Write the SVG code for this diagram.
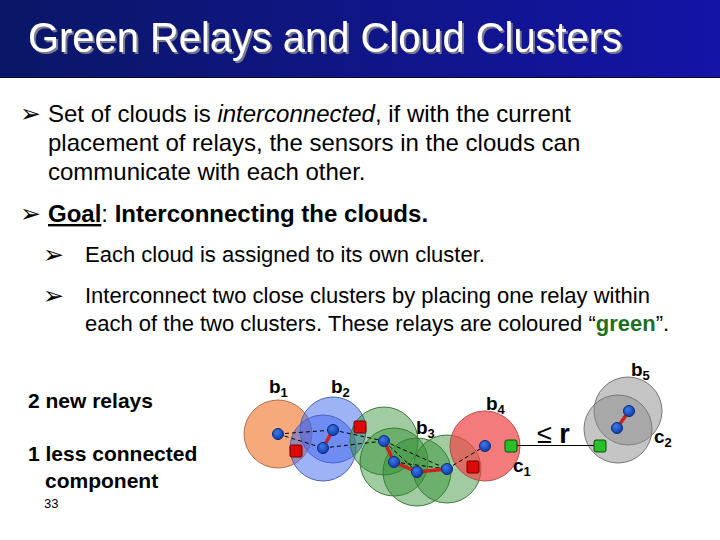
<svg xmlns="http://www.w3.org/2000/svg" width="720" height="540" viewBox="0 0 720 540">
<defs>
<linearGradient id="bar" x1="0" y1="0" x2="1" y2="0">
<stop offset="0" stop-color="#0a1766"/>
<stop offset="1" stop-color="#1414a6"/>
</linearGradient>
<radialGradient id="dot" cx="0.4" cy="0.35" r="0.7">
<stop offset="0" stop-color="#3f78e8"/>
<stop offset="1" stop-color="#0b3aa8"/>
</radialGradient>
<filter id="shadow" x="-5%" y="-20%" width="110%" height="150%">
<feDropShadow dx="2" dy="2" stdDeviation="0.6" flood-color="#7a7a90" flood-opacity="1"/>
</filter>
<style>
.title{font-family:"Liberation Sans",Arial,sans-serif;font-size:42px;}
.body{font-family:"Liberation Sans",Arial,sans-serif;fill:#000;}
.bul{font-family:"DejaVu Sans",sans-serif;font-size:25px;font-weight:bold;fill:#000;}
.lab{font-family:"Liberation Sans",Arial,sans-serif;font-weight:bold;font-size:19px;fill:#000;}
.big{font-size:27px;}
.sub{font-size:13px;}
.orange{fill:#f4935a;fill-opacity:0.8;stroke:#b07050;stroke-width:1;}
.blue{fill:#3e66ee;fill-opacity:0.5;stroke:#4a62b8;stroke-width:1;}
.green{fill:#2e8f2e;fill-opacity:0.45;stroke:#3a7a3a;stroke-width:1;}
.red{fill:#f04848;fill-opacity:0.72;stroke:#b05050;stroke-width:1;}
.gray{fill:#8c8c8c;fill-opacity:0.5;stroke:#777;stroke-width:1;}
.node{fill:url(#dot);stroke:#0a2a78;stroke-width:1;}
.rsq{fill:#dd0a0a;stroke:#6a0000;stroke-width:1;}
.gsq{fill:#28c028;stroke:#0a4a0a;stroke-width:1;}
.dash{stroke:#000;stroke-width:1;stroke-dasharray:4,3;fill:none;}
.link{stroke:#cc2020;stroke-width:3.5;fill:none;}
</style>
</defs>
<rect width="720" height="540" fill="#fff"/>
<g id="title">
<rect x="0" y="0" width="720" height="77" fill="url(#bar)"/>
<line x1="0" y1="77.5" x2="720" y2="77.5" stroke="#0a0a30" stroke-width="1"/>
<text class="title" x="28" y="52" fill="#fff" filter="url(#shadow)" textLength="594" lengthAdjust="spacingAndGlyphs">Green Relays and Cloud Clusters</text>
</g>
<g id="text">
<text class="bul" x="20" y="122">➢</text>
<text class="body" font-size="24" x="48" y="122">Set of clouds is <tspan font-style="italic">interconnected</tspan>, if with the current</text>
<text class="body" font-size="24" x="48" y="151">placement of relays, the sensors in the clouds can</text>
<text class="body" font-size="24" x="48" y="180">communicate with each other.</text>
<text class="bul" x="20" y="222">➢</text>
<text class="body" font-size="24" x="48" y="222"><tspan font-weight="bold" text-decoration="underline">Goal</tspan>: <tspan font-weight="bold">Interconnecting the clouds.</tspan></text>
<text class="bul" x="43" y="263">➢</text>
<text class="body" font-size="22" x="85" y="262">Each cloud is assigned to its own cluster.</text>
<text class="bul" x="43" y="304">➢</text>
<text class="body" font-size="22" x="85" y="303">Interconnect two close clusters by placing one relay within</text>
<text class="body" font-size="22" x="85" y="331">each of the two clusters. These relays are coloured “<tspan font-weight="bold" fill="#1e6e1e">green</tspan>”.</text>
<text class="body" font-size="21" font-weight="bold" x="28" y="408">2 new relays</text>
<text class="body" font-size="21" font-weight="bold" x="28" y="461">1 less connected</text>
<text class="body" font-size="21" font-weight="bold" x="45" y="488">component</text>
<text class="body" font-size="13" x="44" y="508" fill="#333">33</text>
</g>
<g id="clouds">
<circle id="orange-cloud" class="orange" cx="278" cy="434" r="34"/>
<circle class="blue" cx="333" cy="430" r="33"/>
<circle class="blue" cx="323" cy="448" r="33"/>
<circle class="green" cx="384" cy="441" r="34"/>
<circle class="green" cx="394" cy="462" r="34"/>
<circle class="green" cx="417" cy="472" r="34"/>
<circle class="green" cx="447" cy="469" r="34"/>
<circle id="red-cloud" class="red" cx="485" cy="446" r="35"/>
<circle class="gray" cx="628" cy="411" r="34"/>
<circle class="gray" cx="618" cy="429" r="34"/>
</g>
<g id="connectors">
<line class="dash" x1="278" y1="434" x2="333" y2="430"/>
<line class="dash" x1="278" y1="434" x2="323" y2="448"/>
<line class="dash" x1="333" y1="430" x2="384" y2="441"/>
<line class="dash" x1="323" y1="448" x2="384" y2="441"/>
<line class="dash" x1="384" y1="441" x2="447" y2="469"/>
<line class="dash" x1="384" y1="441" x2="417" y2="472"/>
<line class="dash" x1="394" y1="462" x2="447" y2="469"/>
<line class="dash" x1="447" y1="469" x2="485" y2="446"/>
<line class="link" x1="333" y1="430" x2="323" y2="448"/>
<polyline class="link" points="384,441 394,462 417,472 447,469"/>
<line class="link" x1="629" y1="411" x2="617" y2="428"/>
<line x1="511" y1="445.5" x2="600" y2="445.5" stroke="#000" stroke-width="1.2"/>
</g>
<g id="sensors">
<circle class="node" cx="278" cy="434" r="5.5"/>
<circle class="node" cx="333" cy="430" r="5.5"/>
<circle class="node" cx="323" cy="448" r="5.5"/>
<circle class="node" cx="384" cy="441" r="5.5"/>
<circle class="node" cx="394" cy="462" r="5.5"/>
<circle class="node" cx="417" cy="472" r="5.5"/>
<circle class="node" cx="447" cy="469" r="5.5"/>
<circle class="node" cx="485" cy="446" r="5.5"/>
<circle class="node" cx="629" cy="411" r="5.5"/>
<circle class="node" cx="617" cy="428" r="5.5"/>
</g>
<g id="relays">
<rect class="rsq" x="290" y="445" width="12" height="12" rx="1.5"/>
<rect class="rsq" x="354" y="421" width="12" height="12" rx="1.5"/>
<rect class="rsq" x="467" y="461" width="12" height="12" rx="1.5"/>
<rect id="c1-relay" class="gsq" x="505" y="440" width="12" height="12" rx="2"/>
<rect id="c2-relay" class="gsq" x="594" y="440" width="12" height="12" rx="2"/>
</g>
<g id="labels">
<text class="lab" x="269" y="393">b<tspan class="sub" dy="4">1</tspan></text>
<text class="lab" x="331" y="393">b<tspan class="sub" dy="4">2</tspan></text>
<text class="lab" x="416" y="434">b<tspan class="sub" dy="4">3</tspan></text>
<text class="lab" x="486" y="410">b<tspan class="sub" dy="4">4</tspan></text>
<text class="lab" x="631" y="376">b<tspan class="sub" dy="4">5</tspan></text>
<text class="lab" x="513" y="472">c<tspan class="sub" dy="4">1</tspan></text>
<text class="lab" x="654" y="443">c<tspan class="sub" dy="4">2</tspan></text>
<text class="lab big" x="537" y="443"><tspan font-weight="normal">≤</tspan> r</text>
</g>
</svg>
